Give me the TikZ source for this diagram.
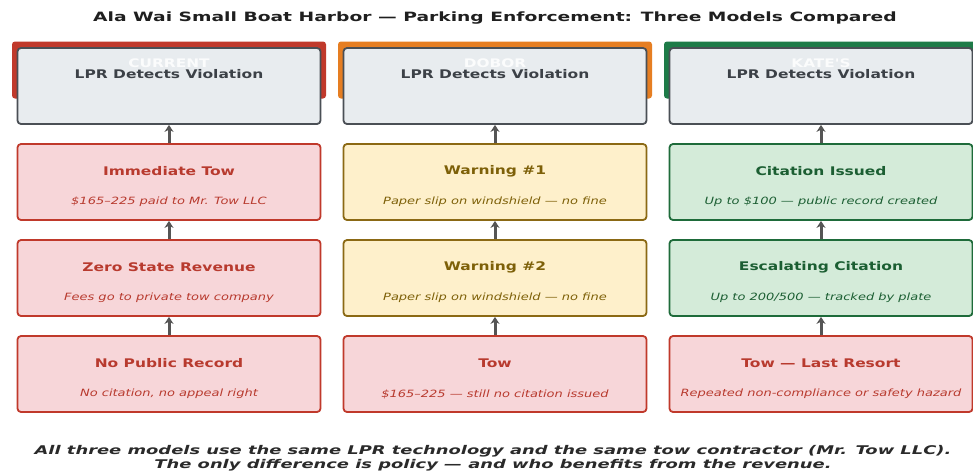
\documentclass[tikz,border=0pt]{standalone}
\usepackage{fontspec}
\setmainfont{DejaVu Sans}
\newfontfamily\bodyfont[FakeStretch=1.3]{DejaVu Sans}
\newfontfamily\titlefont[FakeStretch=1.46]{DejaVu Sans}
\newfontfamily\notefont[FakeStretch=1.49]{DejaVu Sans}
\usetikzlibrary{arrows.meta,calc}
\definecolor{redbar}{HTML}{C0392B}
\definecolor{orangebar}{HTML}{E67E22}
\definecolor{greenbar}{HTML}{1E7B48}
\definecolor{lprfill}{HTML}{E8ECEF}
\definecolor{lprdraw}{HTML}{4A4F55}
\definecolor{lprtext}{HTML}{3C4147}
\definecolor{redfill}{HTML}{F7D6D9}
\definecolor{reddraw}{HTML}{C0392B}
\definecolor{redtext}{HTML}{B83A2E}
\definecolor{yelfill}{HTML}{FEF0CB}
\definecolor{yeldraw}{HTML}{8B6914}
\definecolor{yeltext}{HTML}{7D6008}
\definecolor{grnfill}{HTML}{D4EBD9}
\definecolor{grndraw}{HTML}{1E6B3A}
\definecolor{grntext}{HTML}{1B5E32}
\definecolor{arrowgray}{HTML}{555555}
\definecolor{notetext}{HTML}{2A2A2A}
\begin{document}
\begin{tikzpicture}[x=1pt,y=-1pt,
  bar/.style={rectangle, rounded corners=3pt, minimum width=314pt, minimum height=57pt, inner sep=0pt, draw=none},
  hdr/.style={text=white, opacity=0.85, font=\bodyfont\bfseries\fontsize{11.8}{13}\selectfont, inner sep=0pt},
  box/.style={rectangle, rounded corners=3.5pt, minimum width=303pt, minimum height=76pt, inner sep=0pt, line width=1.8pt},
  lprbox/.style={box, fill=lprfill, draw=lprdraw},
  redbox/.style={box, fill=redfill, draw=reddraw},
  yelbox/.style={box, fill=yelfill, draw=yeldraw},
  grnbox/.style={box, fill=grnfill, draw=grndraw},
  ttl/.style={font=\bodyfont\bfseries\fontsize{11.9}{13}\selectfont, inner sep=0pt},
  sub/.style={font=\bodyfont\itshape\fontsize{10}{12}\selectfont, inner sep=0pt},
  arr/.style={draw=arrowgray, line width=3pt, -{Stealth[length=7pt,width=9pt]}}
]
\fill[white] (0,0) rectangle (973,475);
\useasboundingbox (0,0) rectangle (973,475);
\clip (0,0) rectangle (973,475);

\node[font=\titlefont\bfseries\fontsize{12.8}{15}\selectfont, text=black!88, inner sep=0pt] (title) at (495,18) {Ala Wai Small Boat Harbor — Parking Enforcement: Three Models Compared};

% header bars
\node[bar, fill=redbar] (barA) at (169,70) {};
\node[bar, fill=orangebar] (barB) at (495,70) {};
\node[bar, fill=greenbar] (barC) at (821,70) {};

% row 1: LPR
\node[lprbox] (lA) at (169,86) {};
\node[lprbox] (lB) at (495,86) {};
\node[lprbox] (lC) at (821,86) {};
\node[hdr] (hA) at (169,63) {CURRENT};
\node[hdr] (hB) at (495,63) {DOBOR};
\node[hdr] (hC) at (821,63) {KATE'S};
\foreach \c in {A,B,C}{
  \node[ttl, text=lprtext] (lt\c) at ($(l\c.north)+(0,27)$) {LPR Detects Violation};
}

% column A
\node[redbox] (a2) at (169,182) {};
\node[ttl, text=redtext] (a2t) at ($(a2.north)+(0,28)$) {Immediate Tow};
\node[sub, text=redtext] (a2s) at ($(a2.north)+(0,59)$) {\$165–225 paid to Mr. Tow LLC};
\node[redbox] (a3) at (169,278) {};
\node[ttl, text=redtext] (a3t) at ($(a3.north)+(0,28)$) {Zero State Revenue};
\node[sub, text=redtext] (a3s) at ($(a3.north)+(0,59)$) {Fees go to private tow company};
\node[redbox] (a4) at (169,374) {};
\node[ttl, text=redtext] (a4t) at ($(a4.north)+(0,28)$) {No Public Record};
\node[sub, text=redtext] (a4s) at ($(a4.north)+(0,59)$) {No citation, no appeal right};

% column B
\node[yelbox] (b2) at (495,182) {};
\node[ttl, text=yeltext] (b2t) at ($(b2.north)+(0,28)$) {Warning \#1};
\node[sub, text=yeltext] (b2s) at ($(b2.north)+(0,59)$) {Paper slip on windshield — no fine};
\node[yelbox] (b3) at (495,278) {};
\node[ttl, text=yeltext] (b3t) at ($(b3.north)+(0,28)$) {Warning \#2};
\node[sub, text=yeltext] (b3s) at ($(b3.north)+(0,59)$) {Paper slip on windshield — no fine};
\node[redbox] (b4) at (495,374) {};
\node[ttl, text=redtext] (b4t) at ($(b4.north)+(0,28)$) {Tow};
\node[sub, text=redtext] (b4s) at ($(b4.north)+(0,59)$) {\$165–225 — still no citation issued};

% column C
\node[grnbox] (c2) at (821,182) {};
\node[ttl, text=grntext] (c2t) at ($(c2.north)+(0,28)$) {Citation Issued};
\node[sub, text=grntext] (c2s) at ($(c2.north)+(0,59)$) {Up to \$100 — public record created};
\node[grnbox] (c3) at (821,278) {};
\node[ttl, text=grntext] (c3t) at ($(c3.north)+(0,28)$) {Escalating Citation};
\node[sub, text=grntext] (c3s) at ($(c3.north)+(0,59)$) {Up to 200/500 — tracked by plate};
\node[redbox] (c4) at (821,374) {};
\node[ttl, text=redtext] (c4t) at ($(c4.north)+(0,28)$) {Tow — Last Resort};
\node[sub, text=redtext] (c4s) at ($(c4.north)+(0,59)$) {Repeated non-compliance or safety hazard};

% arrows
\foreach \c/\C in {a/A,b/B,c/C}{
  \draw[arr] (\c2.north) -- (l\C.south);
  \draw[arr] (\c3.north) -- (\c2.south);
  \draw[arr] (\c4.north) -- (\c3.south);
}

% note
\node[font=\notefont\bfseries\itshape\fontsize{12}{14}\selectfont, text=notetext, align=center, inner sep=0pt] (note) at (493,458) {All three models use the same LPR technology and the same tow contractor (Mr. Tow LLC).\\The only difference is policy — and who benefits from the revenue.};
\end{tikzpicture}
\end{document}
